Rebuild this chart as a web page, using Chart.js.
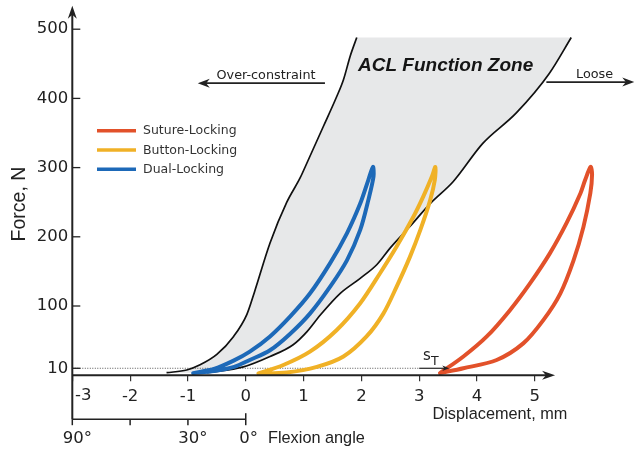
<!DOCTYPE html>
<html>
<head>
<meta charset="utf-8">
<script src="https://cdn.jsdelivr.net/npm/chart.js@4/dist/chart.umd.min.js"></script>
<style>
  html, body { margin: 0; padding: 0; background: #fff; }
</style>
</head>
<body>
<canvas id="chart" width="636" height="449"></canvas>
<script>
// axis ticks
const xTicks = [-3, -2, -1, 0, 1, 2, 3, 4, 5];
const yTicks = [10, 100, 200, 300, 400, 500];
const flexTickPos = [-3, -2, -1, 0];
const flexLabels = ['90°', '', '30°', '0°'];

// hysteresis loops: loading branch up, then unloading branch back down
const seriesNames = ['Suture-Locking', 'Button-Locking', 'Dual-Locking'];
const sutureX = [3.36, 3.765, 4.34, 4.80, 5.15, 5.44, 5.67, 5.84, 5.96, 5.99, 5.965, 5.87, 5.79, 5.55, 5.26, 4.92, 4.57, 4.17, 3.765, 3.36];
const sutureY = [3, 10, 22, 46, 80, 118, 166, 214, 263, 290, 301, 282, 263, 220, 176, 133, 94, 56, 27, 3];
const buttonX = [0.22, 0.71, 1.23, 1.69, 2.09, 2.38, 2.61, 2.84, 3.02, 3.19, 3.27, 3.28, 3.22, 3.07, 2.90, 2.61, 2.32, 1.98, 1.57, 1.11, 0.65, 0.22];
const buttonY = [2.5, 4, 12, 27, 56, 89, 128, 171, 210, 253, 282, 301, 287, 258, 229, 186, 147, 104, 65, 34, 14.7, 2.5];
const dualX = [-0.91, -0.55, -0.2, 0.07, 0.42, 0.77, 1.11, 1.46, 1.75, 1.98, 2.12, 2.21, 2.2, 2.12, 1.98, 1.75, 1.46, 1.11, 0.77, 0.42, 0.07, -0.21, -0.55, -0.91];
const dualY = [3, 6, 12, 22, 36, 60, 89, 128, 166, 210, 253, 287, 301, 282, 248, 205, 162, 118, 85, 56, 34, 21, 9, 3];

// ACL function zone boundaries
const zoneLeftX = [-1.37, -1.02, -0.79, -0.5, -0.21, 0.02, 0.15, 0.42, 0.71, 0.94, 1.06, 1.34, 1.57, 1.69, 1.81, 1.92];
const zoneLeftY = [3.6, 7.5, 15, 30, 56, 88, 120, 191, 250, 285, 307, 359, 402, 427, 462, 488];
const zoneRightX = [-0.67, -0.04, 0.42, 0.82, 1.06, 1.29, 1.63, 1.98, 2.27, 2.5, 2.84, 3.19, 3.59, 4.1, 4.68, 5.25, 5.63];
const zoneRightY = [3.6, 12, 27, 44, 63, 87, 118, 140, 160, 184, 215, 248, 280, 335, 379, 436, 488];

const thresholdForce = 10;
const slackStart = 3.0, slackEnd = 3.52;

const colors = ['#e2512a', '#f0b126', '#1d69b8'];
const ink = '#222';

const pts = (xs, ys) => xs.map((x, i) => ({ x, y: ys[i] }));

const zoneShape = pts(zoneLeftX, zoneLeftY).concat(pts(zoneRightX, zoneRightY).reverse());

function arrow(ctx, x1, y1, x2, y2, len, half, lw) {
  const a = Math.atan2(y2 - y1, x2 - x1);
  ctx.lineWidth = lw;
  ctx.beginPath();
  ctx.moveTo(x1, y1);
  ctx.lineTo(x2 - Math.cos(a) * len * 0.6, y2 - Math.sin(a) * len * 0.6);
  ctx.stroke();
  ctx.beginPath();
  ctx.moveTo(x2, y2);
  ctx.lineTo(x2 - Math.cos(a) * len - Math.sin(a) * half, y2 - Math.sin(a) * len + Math.cos(a) * half);
  ctx.lineTo(x2 - Math.cos(a) * len * 0.7, y2 - Math.sin(a) * len * 0.7);
  ctx.lineTo(x2 - Math.cos(a) * len + Math.sin(a) * half, y2 - Math.sin(a) * len - Math.cos(a) * half);
  ctx.closePath();
  ctx.fill();
}

const overlay = {
  id: 'overlay',
  afterDraw(chart) {
    const { ctx } = chart;
    const xs = chart.scales.x, ys = chart.scales.y;
    const px = v => xs.getPixelForValue(v);
    const py = v => ys.getPixelForValue(v);
    const x0 = px(-3), y0 = py(0);
    const flexY = y0 + 44;
    ctx.save();
    ctx.strokeStyle = ink;
    ctx.fillStyle = ink;

    // axes with arrow heads
    arrow(ctx, x0, flexY, x0, py(534), 13, 4.5, 2);
    arrow(ctx, x0, y0, px(5.35), y0, 13, 4.5, 2);

    // y ticks point inward
    ctx.lineWidth = 1.3;
    yTicks.forEach(v => {
      ctx.beginPath();
      ctx.moveTo(x0, py(v));
      ctx.lineTo(x0 + 8, py(v));
      ctx.stroke();
    });

    // flexion angle scale
    ctx.lineWidth = 1.5;
    ctx.beginPath();
    ctx.moveTo(x0, flexY);
    ctx.lineTo(px(0), flexY);
    ctx.stroke();
    flexTickPos.forEach((v, i) => {
      ctx.beginPath();
      const last = i === flexTickPos.length - 1;
      ctx.moveTo(px(v), last ? flexY - 6 : flexY);
      ctx.lineTo(px(v), flexY + 6);
      ctx.stroke();
    });
    ctx.font = '16.5px "DejaVu Sans"';
    ctx.textBaseline = 'alphabetic';
    ctx.textAlign = 'center';
    flexLabels.forEach((t, i) => {
      if (!t) return;
      const off = i === 0 ? 5 : (i === flexLabels.length - 1 ? 3 : 5);
      ctx.fillText(t, px(flexTickPos[i]) + off, flexY + 24);
    });
    ctx.textAlign = 'left';
    ctx.font = '16.3px "Liberation Sans"';
    ctx.fillText('Flexion angle', 268, flexY + 24);

    // first x tick label sits right of the y axis
    ctx.font = '16.5px "DejaVu Sans"';
    ctx.textAlign = 'center';
    ctx.fillText(String(xTicks[0]), x0 + 11, 400);

    // axis titles
    ctx.font = '16.3px "Liberation Sans"';
    ctx.textAlign = 'left';
    ctx.fillText('Displacement, mm', 432.5, 418.5);
    ctx.save();
    ctx.translate(20, 204);
    ctx.rotate(-Math.PI / 2);
    ctx.font = '19.5px "Liberation Sans"';
    ctx.textAlign = 'center';
    ctx.textBaseline = 'middle';
    ctx.fillText('Force, N', 0, 0);
    ctx.restore();

    // slack arrow s_T
    arrow(ctx, px(slackStart), py(thresholdForce), px(slackEnd), py(thresholdForce), 7, 2.8, 1.2);
    ctx.font = '15px "DejaVu Sans"';
    ctx.textAlign = 'left';
    ctx.fillText('s', 423, 360);
    ctx.font = '12.5px "DejaVu Sans"';
    ctx.fillText('T', 431, 365);

    // zone annotations
    arrow(ctx, px(1.37), py(422), px(-0.83), py(422), 12, 4.5, 1.8);
    arrow(ctx, px(5.2), py(423.6), px(6.72), py(423.6), 12, 4.5, 1.8);
    ctx.font = '12.8px "DejaVu Sans"';
    ctx.fillText('Over-constraint', 216.5, 78.5);
    ctx.fillText('Loose', 576, 77.5);
    ctx.font = 'italic bold 19px "Liberation Sans"';
    ctx.fillStyle = '#151515';
    ctx.fillText('ACL Function Zone', 358, 70.5);

    // legend
    const rows = [130.7, 150, 169.3];
    ctx.font = '12.5px "DejaVu Sans"';
    ctx.textBaseline = 'middle';
    ctx.fillStyle = '#333';
    chart.data.datasets.slice(0, 3).forEach((ds, i) => {
      ctx.strokeStyle = ds.borderColor;
      ctx.lineWidth = 3.5;
      ctx.beginPath();
      ctx.moveTo(97, rows[i]);
      ctx.lineTo(136, rows[i]);
      ctx.stroke();
      ctx.fillText(ds.label, 143, rows[i] + 0.5);
    });
    ctx.restore();
  }
};

const loopStyle = c => ({
  borderColor: c, borderWidth: 4, pointRadius: 0, tension: 0.3,
  borderJoinStyle: 'round', borderCapStyle: 'round', fill: false, order: 0
});
const edgeStyle = {
  borderColor: '#111', borderWidth: 1.7, pointRadius: 0,
  cubicInterpolationMode: 'monotone', fill: false, order: 1
};

new Chart(document.getElementById('chart'), {
  type: 'line',
  data: {
    datasets: [
      { label: seriesNames[0], data: pts(sutureX, sutureY), ...loopStyle(colors[0]) },
      { label: seriesNames[1], data: pts(buttonX, buttonY), ...loopStyle(colors[1]) },
      { label: seriesNames[2], data: pts(dualX, dualY), ...loopStyle(colors[2]) },
      { label: 'zone left', data: pts(zoneLeftX, zoneLeftY), ...edgeStyle },
      { label: 'zone right', data: pts(zoneRightX, zoneRightY), ...edgeStyle },
      { label: 'threshold', data: [{ x: -3, y: thresholdForce }, { x: slackStart, y: thresholdForce }],
        borderColor: '#555', borderWidth: 1, borderDash: [1, 1.5], pointRadius: 0, fill: false, order: 1 },
      { label: 'zone', data: zoneShape, borderWidth: 0, borderColor: 'rgba(0,0,0,0)',
        backgroundColor: '#e7e8e9', pointRadius: 0, tension: 0, fill: 'shape', order: 2 }
    ]
  },
  options: {
    responsive: false,
    animation: false,
    layout: { padding: 0 },
    plugins: { legend: { display: false }, tooltip: { enabled: false } },
    scales: {
      x: {
        type: 'linear', min: -3, max: 6.75,
        afterBuildTicks: s => { s.ticks = xTicks.map(v => ({ value: v })); },
        afterFit: s => { s.height = 73.8; s.paddingLeft = 0; s.paddingRight = 0; },
        grid: { drawOnChartArea: false, drawTicks: true, tickLength: 6, color: '#333', lineWidth: 1.2 },
        border: { display: false },
        ticks: {
          padding: 6, color: ink, font: { family: 'DejaVu Sans', size: 16.5 },
          callback: v => (v === xTicks[0] ? '' : String(v))
        }
      },
      y: {
        type: 'linear', min: 0, max: 542.2,
        afterBuildTicks: s => { s.ticks = yTicks.map(v => ({ value: v })); },
        afterFit: s => { s.width = 72.3; s.paddingTop = 0; s.paddingBottom = 0; },
        grid: { display: false, drawTicks: false },
        border: { display: false },
        ticks: { padding: 4, color: ink, font: { family: 'DejaVu Sans', size: 16.5 } }
      }
    }
  },
  plugins: [overlay]
});
</script>
</body>
</html>
